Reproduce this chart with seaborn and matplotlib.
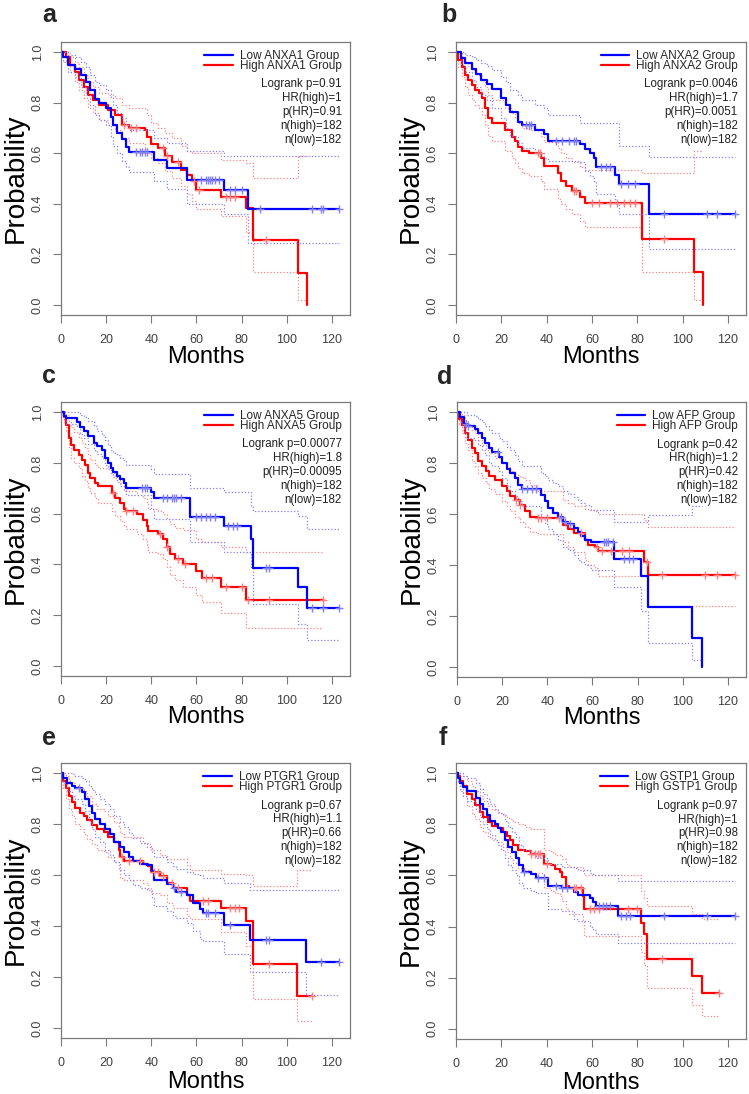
import numpy as np
import pandas as pd
import matplotlib
matplotlib.use("Agg")
import matplotlib.pyplot as plt
from matplotlib.lines import Line2D
import seaborn as sns

# ---- panel annotations ----
letters = ["a", "b", "c", "d", "e", "f"]
genes = ["ANXA1", "ANXA2", "ANXA5", "AFP", "PTGR1", "GSTP1"]
logrank_p = ["0.91", "0.0046", "0.00077", "0.42", "0.67", "0.97"]
hr_high = ["1", "1.7", "1.8", "1.2", "1.1", "1"]
p_hr = ["0.91", "0.0051", "0.00095", "0.42", "0.66", "0.98"]
n_high = [182, 182, 182, 182, 182, 182]
n_low = [182, 182, 182, 182, 182, 182]

# ---- a: ANXA1 ----
a_low_t = [0, 1, 3, 6, 9, 11, 13, 15, 17, 20, 22, 23, 25, 27, 29, 30, 41, 47, 56, 72, 83]
a_low_s = [1.0, .98, .95, .935, .91, .88, .85, .815, .80, .78, .745, .71, .68, .655, .625, .605, .575, .54, .495, .455, .38]
a_low_lo = [1.0, .96, .92, .90, .86, .83, .79, .75, .73, .71, .67, .63, .60, .57, .545, .525, .49, .46, .40, .36, .245]
a_low_hi = [1.0, 1.0, .99, .98, .96, .94, .91, .88, .87, .85, .82, .79, .76, .74, .71, .69, .66, .64, .61, .59, .59]
a_low_cens = [33, 35, 36, 37, 38, 62, 64, 65, 66, 67, 68, 70, 75, 77, 80, 88, 111, 115, 116, 123]
a_high_t = [0, 2, 4, 6, 8, 10, 12, 14, 17, 21, 24, 27, 30, 37, 38, 40, 43, 46, 49, 53, 56, 58, 60, 71, 82, 85, 105, 109]
a_high_s = [1.0, .98, .95, .92, .89, .86, .83, .81, .79, .77, .75, .71, .70, .69, .665, .635, .62, .59, .565, .535, .515, .49, .455, .425, .385, .255, .127, 0.0]
a_high_lo = [1.0, .96, .92, .88, .85, .82, .78, .76, .73, .71, .69, .66, .64, .62, .60, .58, .56, .53, .50, .47, .44, .41, .38, .35, .29, .13, .02, .02]
a_high_hi = [1.0, 1.0, .98, .96, .94, .91, .88, .86, .84, .83, .82, .79, .78, .775, .75, .72, .70, .68, .66, .63, .61, .60, .60, .575, .56, .50, .59, .59]
a_high_cens = [28, 31, 33, 45, 47, 52, 59, 61, 73, 75, 77, 91]

# ---- b: ANXA2 ----
b_low_t = [0, 2, 4, 7, 9, 11, 13.5, 16, 20, 22, 24, 27.5, 29, 35, 39, 40.7, 54.6, 57, 59, 61, 62, 70, 72, 85]
b_low_s = [1.0, .975, .955, .935, .915, .89, .875, .855, .82, .79, .765, .725, .71, .69, .675, .65, .635, .615, .60, .58, .545, .515, .48, .36]
b_low_lo = [1.0, .95, .92, .89, .86, .83, .81, .78, .74, .70, .67, .64, .62, .60, .58, .57, .565, .53, .51, .49, .44, .40, .36, .22]
b_low_hi = [1.0, 1.0, .99, .98, .97, .955, .945, .93, .90, .88, .85, .83, .81, .79, .78, .75, .72, .72, .72, .72, .72, .72, .63, .585]
b_low_cens = [31, 32, 33, 44, 47, 50, 52, 53, 64, 66, 68, 73, 76, 79, 92, 111, 115, 123]
b_high_t = [0, 1, 2.5, 4, 5.5, 7, 8.5, 10, 11.3, 12.8, 14, 15.7, 21.6, 24.5, 26, 27.5, 29, 32, 37.7, 39, 45, 46.5, 48.7, 51, 54.6, 57, 82, 105, 109]
b_high_s = [1.0, .97, .94, .91, .89, .87, .85, .84, .82, .78, .74, .72, .69, .665, .65, .625, .61, .60, .58, .55, .52, .49, .47, .45, .425, .405, .26, .13, 0.0]
b_high_lo = [1.0, .94, .90, .86, .83, .81, .79, .78, .75, .71, .67, .65, .61, .58, .56, .54, .52, .51, .49, .46, .42, .40, .38, .36, .33, .31, .13, .02, .02]
b_high_hi = [1.0, 1.0, .98, .96, .945, .93, .915, .905, .89, .86, .83, .81, .78, .76, .745, .72, .70, .69, .67, .645, .62, .60, .58, .565, .545, .533, .52, .61, .61]
b_high_cens = [36, 37, 52, 53, 60, 63, 68, 71, 74, 77, 79, 92]

# ---- c: ANXA5 ----
c_low_t = [0, 1.2, 2, 7, 8.5, 10, 12, 14.4, 16, 18, 19.6, 21, 22, 23, 25, 26, 28, 29, 40, 41, 57, 72, 84, 85, 105, 109]
c_low_s = [1.0, .985, .975, .96, .94, .925, .905, .88, .865, .85, .82, .80, .78, .765, .75, .735, .72, .70, .685, .66, .585, .55, .50, .385, .31, .23]
c_low_lo = [1.0, .97, .955, .94, .915, .90, .875, .85, .835, .82, .79, .775, .76, .745, .725, .71, .69, .675, .62, .577, .49, .447, .39, .245, .165, .10]
c_low_hi = [1.0, 1.0, 1.0, 1.0, .99, .98, .965, .945, .925, .91, .89, .87, .85, .84, .83, .82, .81, .79, .775, .755, .70, .685, .63, .61, .59, .54]
c_low_cens = [36, 37, 38, 45, 47, 49, 50, 51, 53, 60, 62, 64, 66, 68, 74, 76, 78, 91, 92, 111, 116, 123]
c_high_t = [0, 1.2, 2.4, 3.4, 4.4, 5.6, 7.8, 9.3, 10.8, 11.8, 13, 15, 16.6, 22.5, 24, 26, 27.7, 29, 33.6, 36.5,
            38, 38.7, 43, 45, 46.8, 48.3, 50.5, 54, 60, 62.3, 71, 82]
c_high_s = [1.0, .98, .95, .90, .87, .85, .83, .81, .79, .76, .74, .72, .71, .68, .66, .64, .62, .61, .60, .575,
            .55, .53, .52, .50, .47, .44, .42, .40, .375, .345, .31, .26]
c_high_lo = [1.0, .96, .92, .86, .82, .80, .78, .75, .73, .70, .68, .66, .64, .61, .59, .57, .55, .54, .52, .50,
             .47, .45, .44, .42, .39, .36, .34, .31, .28, .25, .21, .15]
c_high_hi = [1.0, 1.0, .99, .96, .94, .92, .90, .88, .86, .83, .81, .79, .78, .76, .74, .72, .70, .69, .675, .66,
             .64, .62, .61, .60, .58, .56, .545, .535, .50, .49, .47, .447]
c_high_cens = [23, 29, 32, 44, 47, 52, 55, 64, 67, 73, 80, 83, 92, 116]

# ---- d: AFP ----
d_low_t = [0, 1.5, 3, 4.4, 8, 9.5, 11, 12.5, 14, 15.4, 18.4, 19.8, 22, 23.5, 25.7, 27, 28.6, 37.4, 39, 40.4,
           42.6, 44.8, 47, 49, 52, 53.6, 55, 56.5, 59.5, 69.7, 81.5, 84.4, 104, 108.7]
d_low_s = [1.0, .98, .955, .945, .935, .92, .90, .88, .86, .845, .825, .80, .775, .76, .74, .715, .70, .675, .65, .625,
           .605, .59, .57, .56, .545, .53, .515, .50, .49, .425, .355, .235, .115, 0.0]
d_low_lo = [1.0, .96, .92, .90, .89, .87, .85, .83, .80, .79, .77, .74, .71, .69, .67, .65, .63, .59, .56, .54,
            .52, .50, .47, .46, .44, .42, .41, .40, .38, .315, .22, .093, .028, .028]
d_low_hi = [1.0, 1.0, 1.0, .99, .985, .975, .96, .945, .93, .92, .90, .885, .865, .85, .83, .81, .79, .76, .75, .735,
            .72, .71, .69, .68, .665, .655, .645, .635, .617, .57, .57, .597, .63, .63]
d_low_cens = [4, 5, 18, 29, 31, 33, 35, 46, 48, 50, 65, 66, 67, 69, 74, 76, 78]
d_high_t = [0, 1, 2.2, 3.7, 5, 6.6, 8, 9.5, 11, 13, 14, 17, 19.8, 22, 23.5, 25.7, 28, 30, 32.3, 36,
            47, 49, 52, 56.5, 58, 61, 62.4, 83, 84.4]
d_high_s = [1.0, .975, .95, .92, .89, .86, .84, .81, .79, .77, .75, .735, .71, .69, .67, .655, .635, .61, .59, .585,
            .555, .54, .525, .50, .48, .47, .455, .41, .36]
d_high_lo = [1.0, .95, .92, .88, .85, .81, .79, .76, .74, .72, .70, .68, .65, .63, .61, .59, .57, .55, .53, .52,
             .49, .47, .45, .42, .40, .39, .357, .357, .237]
d_high_hi = [1.0, 1.0, .99, .97, .95, .93, .92, .89, .87, .85, .84, .82, .80, .785, .77, .755, .745, .735, .715, .69,
             .655, .645, .63, .62, .617, .61, .60, .577, .55]
d_high_cens = [26, 28, 36, 37, 40, 45, 55, 62, 64, 68, 73, 76, 84, 91, 110, 115, 123]

# ---- e: PTGR1 ----
e_low_t = [0, 1, 2.6, 4.9, 6.3, 9.3, 10.8, 12.2, 13.7, 15, 17.4, 19.6, 21.8, 23.3, 26.2, 27.7, 30, 32, 35, 38,
           40.2, 41, 46.8, 49.8, 51, 55.7, 58.6, 61.6, 63, 72, 83.6, 108.7]
e_low_s = [1.0, .98, .96, .95, .94, .925, .90, .87, .845, .82, .80, .78, .76, .73, .71, .69, .67, .655, .645, .64,
           .615, .58, .565, .55, .535, .52, .49, .465, .45, .405, .345, .26]
e_low_lo = [1.0, .96, .93, .91, .90, .88, .85, .81, .78, .75, .73, .70, .68, .65, .62, .60, .58, .56, .55, .54,
            .51, .48, .46, .44, .43, .41, .38, .35, .34, .29, .22, .128]
e_low_hi = [1.0, 1.0, 1.0, .995, .99, .98, .97, .95, .935, .92, .90, .88, .86, .83, .81, .79, .765, .745, .725, .71,
            .69, .67, .65, .635, .625, .61, .605, .60, .59, .57, .54, .54]
e_low_cens = [8, 50, 53, 64, 65, 68, 75, 91, 92, 115, 123]
e_high_t = [0, 1, 2, 3.4, 4.9, 6.3, 8.5, 10, 11.5, 13.7, 16, 18.9, 21, 23.3, 25.5, 26.2, 27.7, 36.5, 38.7, 40,
            43.9, 47, 49.8, 55.7, 57.1, 71, 82, 85, 104.7]
e_high_s = [1.0, .97, .94, .91, .885, .865, .845, .83, .815, .795, .78, .77, .75, .73, .70, .67, .655, .645, .635, .61,
            .595, .57, .55, .52, .50, .47, .42, .25, .125]
e_high_lo = [1.0, .94, .90, .86, .83, .80, .78, .76, .74, .72, .70, .69, .67, .65, .62, .59, .58, .57, .55, .53,
             .52, .49, .47, .44, .427, .375, .322, .115, .028]
e_high_hi = [1.0, 1.0, .99, .97, .96, .95, .94, .93, .91, .88, .86, .85, .83, .81, .79, .765, .75, .725, .72, .70,
             .68, .663, .663, .64, .62, .604, .60, .558, .62]
e_high_cens = [27, 30, 35, 41, 43, 45, 49, 52, 63, 65, 75, 77, 79, 92, 111]

# ---- f: GSTP1 ----
f_low_t = [0, 0.7, 1.8, 3.2, 4.7, 9, 10.5, 12, 13.5, 15, 17, 18.6, 20, 21.5, 23, 24.5, 26.7, 28, 29.6, 33,
           35.5, 40.6, 47, 52.3, 53.8, 59.3, 60.4, 61.8, 71.4]
f_low_s = [1.0, .98, .96, .945, .93, .905, .88, .86, .835, .815, .80, .785, .77, .74, .71, .69, .67, .64, .615, .605,
           .59, .56, .55, .535, .525, .51, .495, .48, .44]
f_low_lo = [1.0, .96, .93, .91, .89, .86, .83, .80, .78, .76, .74, .72, .70, .67, .64, .62, .60, .57, .55, .54,
            .53, .47, .46, .43, .42, .40, .385, .37, .336]
f_low_hi = [1.0, 1.0, 1.0, .99, .98, .96, .94, .92, .90, .88, .86, .85, .84, .815, .79, .77, .75, .72, .70, .69,
            .67, .645, .635, .63, .62, .61, .60, .60, .58]
f_low_cens = [30, 36, 39, 44, 47, 49, 63, 65, 66, 68, 73, 75, 77, 92, 111, 123]
f_high_t = [0, 1, 1.8, 3.2, 4.7, 6.9, 8.4, 10.5, 12, 14.2, 15.7, 18.6, 20.8, 22.3, 23.7, 25.2, 27.4, 30.3, 33, 39,
            42, 43.5, 45.7, 47, 48.6, 50, 56, 56.7, 81.6, 83, 84.5, 104.3, 108.7]
f_high_s = [1.0, .99, .97, .95, .92, .90, .875, .85, .83, .81, .795, .785, .77, .755, .74, .72, .70, .695, .685, .645,
            .64, .625, .615, .595, .56, .55, .52, .47, .415, .37, .275, .205, .14]
f_high_lo = [1.0, .97, .94, .91, .87, .84, .82, .79, .77, .75, .74, .73, .71, .69, .67, .65, .63, .62, .61, .55,
             .54, .53, .52, .50, .47, .45, .42, .365, .30, .25, .16, .095, .05]
f_high_hi = [1.0, 1.0, 1.0, .99, .97, .95, .93, .91, .89, .87, .857, .845, .835, .825, .82, .81, .80, .79, .78, .70,
             .69, .68, .675, .665, .645, .635, .61, .60, .54, .51, .48, .45, .43]
f_high_cens = [33, 35, 36, 37, 40, 52, 53, 55, 59, 61, 63, 76, 80, 91, 116]

low_groups = [
    (a_low_t, a_low_s, a_low_lo, a_low_hi, a_low_cens),
    (b_low_t, b_low_s, b_low_lo, b_low_hi, b_low_cens),
    (c_low_t, c_low_s, c_low_lo, c_low_hi, c_low_cens),
    (d_low_t, d_low_s, d_low_lo, d_low_hi, d_low_cens),
    (e_low_t, e_low_s, e_low_lo, e_low_hi, e_low_cens),
    (f_low_t, f_low_s, f_low_lo, f_low_hi, f_low_cens),
]
high_groups = [
    (a_high_t, a_high_s, a_high_lo, a_high_hi, a_high_cens),
    (b_high_t, b_high_s, b_high_lo, b_high_hi, b_high_cens),
    (c_high_t, c_high_s, c_high_lo, c_high_hi, c_high_cens),
    (d_high_t, d_high_s, d_high_lo, d_high_hi, d_high_cens),
    (e_high_t, e_high_s, e_high_lo, e_high_hi, e_high_cens),
    (f_high_t, f_high_s, f_high_lo, f_high_hi, f_high_cens),
]

sns.set_theme(style="white")
plt.rcParams["font.family"] = ["Liberation Sans", "DejaVu Sans"]

W, H = 749, 1094
fig = plt.figure(figsize=(W / 100, H / 100), dpi=100, facecolor="w")

# axes boxes in pixels: left, top, right, bottom
boxes = [(61, 42, 350, 315), (456, 42, 746, 315),
         (61, 402, 350, 676), (457, 402, 746, 677),
         (61, 763, 350, 1038), (456, 763, 746, 1039)]
letter_pos = [(42, 15), (441, 15), (42, 376), (437, 377), (42, 738), (439, 738)]
xlabel_pad = [0, 0, -1, -1, 1, 1]

GRAY = "#7a7a7a"


def step_frame(t, v, end):
    times, vals = list(t), list(v)
    if end > times[-1]:
        times.append(end)
        vals.append(vals[-1])
    return pd.DataFrame({"Months": times, "Probability": vals})


def draw_group(ax, grp, color, ci_color):
    t, s, lo, hi, cens = grp
    end = max([t[-1]] + list(cens))
    for band in (lo, hi):
        sns.lineplot(data=step_frame(t, band, end), x="Months", y="Probability", ax=ax,
                     color=ci_color, linestyle=(0, (1, 1.6)), linewidth=0.9,
                     drawstyle="steps-post", estimator=None, sort=False)
    sns.lineplot(data=step_frame(t, s, end), x="Months", y="Probability", ax=ax,
                 color=color, linewidth=1.6, drawstyle="steps-post", estimator=None, sort=False)
    idx = np.searchsorted(t, cens, side="right") - 1
    sns.scatterplot(x=cens, y=np.asarray(s)[idx], ax=ax, marker="+", s=32,
                    color=ci_color, linewidth=1.0, zorder=4)


for i in range(6):
    l, t, r, b = boxes[i]
    ax = fig.add_axes([l / W, 1 - b / H, (r - l) / W, (b - t) / H])
    draw_group(ax, high_groups[i], "#FF0000", "#FF8080")
    draw_group(ax, low_groups[i], "#0000FF", "#8080FF")

    ax.set_xlim(0, 128)
    ax.set_ylim(-0.04, 1.04)
    ax.set_xticks(range(0, 121, 20))
    ax.set_yticks([0, 0.2, 0.4, 0.6, 0.8, 1.0])
    ax.set_yticklabels(["0.0", "0.2", "0.4", "0.6", "0.8", "1.0"])
    for lab in ax.get_yticklabels():
        lab.set_rotation(90)
        lab.set_va("center")
    ax.tick_params(axis="both", direction="out", length=5.5, width=0.8, color=GRAY,
                   labelsize=9, labelcolor="#404040", left=True, bottom=True)
    ax.tick_params(axis="y", pad=7)
    ax.tick_params(axis="x", pad=8.5)
    for sp in ax.spines.values():
        sp.set_color(GRAY)
        sp.set_linewidth(0.9)

    ax.set_ylabel("Probability", fontsize=20, labelpad=2, color="black")
    ax.set_xlabel("Months", fontsize=17, labelpad=xlabel_pad[i], color="black")

    handles = [Line2D([0], [0], color="#0000FF", lw=1.6), Line2D([0], [0], color="#FF0000", lw=1.6)]
    ax.legend(handles, ["Low %s Group" % genes[i], "High %s Group" % genes[i]],
              loc="upper right", frameon=False, fontsize=8.5, handlelength=2.4,
              handletextpad=0.6, labelspacing=-0.15, borderaxespad=0.5, borderpad=0.2)
    stats = "Logrank p=%s\nHR(high)=%s\np(HR)=%s\nn(high)=%d\nn(low)=%d" % (
        logrank_p[i], hr_high[i], p_hr[i], n_high[i], n_low[i])
    ax.text(0.972, 0.867, stats, transform=ax.transAxes, ha="right", va="top",
            fontsize=8.3, linespacing=1.2, color="#202020")

    lx, ly = letter_pos[i]
    fig.text(lx / W, 1 - ly / H, letters[i], fontsize=18, fontweight="bold", ha="left", va="center")

fig.savefig("out.png", dpi=100, facecolor="w")
